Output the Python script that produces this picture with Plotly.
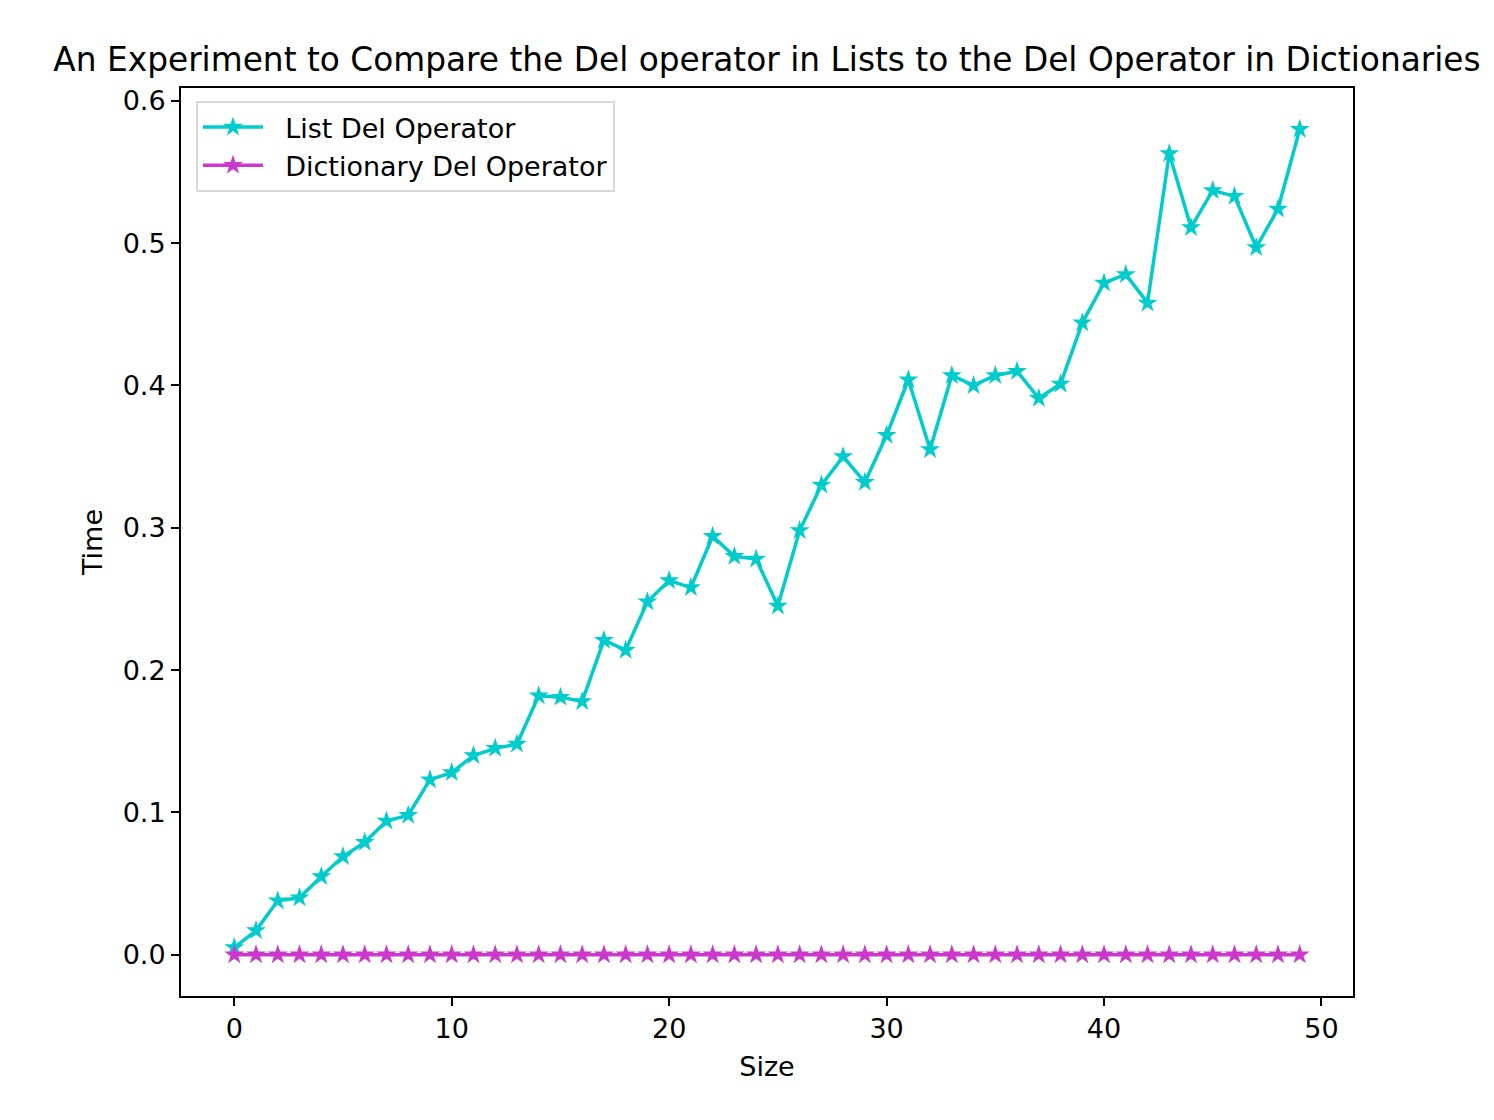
import plotly.graph_objects as go

# list sizes tested
sizes = list(range(50))

# time for del on lists
list_times = [0.005, 0.017, 0.038, 0.040, 0.055, 0.069, 0.079, 0.094, 0.098, 0.123,
              0.128, 0.140, 0.145, 0.148, 0.182, 0.181, 0.178, 0.221, 0.214, 0.248,
              0.263, 0.258, 0.294, 0.280, 0.278, 0.245, 0.298, 0.330, 0.350, 0.332,
              0.365, 0.404, 0.355, 0.407, 0.400, 0.407, 0.410, 0.391, 0.401, 0.444,
              0.472, 0.478, 0.458, 0.563, 0.511, 0.537, 0.533, 0.497, 0.524, 0.580]

# time for del on dictionaries (basically zero)
dict_times = [0.0] * 50

x_ticks = [0, 10, 20, 30, 40, 50]
y_ticks = [0.0, 0.1, 0.2, 0.3, 0.4, 0.5, 0.6]

font = "DejaVu Sans"
pad = "\u00a0\u00a0"  # a little gap between legend symbol and text

fig = go.Figure()
fig.add_trace(go.Scatter(x=sizes, y=list_times, mode="lines+markers", name=pad + "List Del Operator",
                         line=dict(color="#00CCCC", width=3.5),
                         marker=dict(symbol="star", size=15, color="#00CCCC")))
fig.add_trace(go.Scatter(x=sizes, y=dict_times, mode="lines+markers", name=pad + "Dictionary Del Operator",
                         line=dict(color="#CC38CC", width=3.5),
                         marker=dict(symbol="star", size=15, color="#CC38CC")))

# page body has an 8px margin -> figure made 16px smaller so nothing scrolls
fig.update_layout(
    width=1478, height=1104,
    margin=dict(l=173, r=133, t=80, b=116),
    plot_bgcolor="white", paper_bgcolor="white",
    font=dict(family=font, size=27, color="black"),
    title=dict(text="An Experiment to Compare the Del operator in Lists to the Del Operator in Dictionaries",
               x=0.5, xref="paper", xanchor="center",
               y=1 - 52 / 1104, yref="container", yanchor="middle",
               font=dict(family=font, size=32.8, color="black")),
    legend=dict(x=0.0128, y=0.9857, xanchor="left", yanchor="top", itemwidth=60,
                bgcolor="rgba(255,255,255,0.8)", bordercolor="#d9d9d9", borderwidth=2,
                font=dict(family=font, size=27)),
)

fig.update_xaxes(range=[-2.45, 51.45], tickvals=x_ticks, showgrid=False, zeroline=False,
                 showline=True, linecolor="black", linewidth=2, mirror=True,
                 ticks="outside", ticklen=8, tickwidth=2, tickcolor="black",
                 title=dict(text="Size", standoff=14, font=dict(size=27)))
fig.update_yaxes(range=[-0.029, 0.609], tickvals=y_ticks, tickformat=".1f", showgrid=False, zeroline=False,
                 showline=True, linecolor="black", linewidth=2, mirror=True,
                 ticks="outside", ticklen=8, tickwidth=2, tickcolor="black",
                 title=dict(text="Time", standoff=12, font=dict(size=27)))

fig.write_html("out.html")
